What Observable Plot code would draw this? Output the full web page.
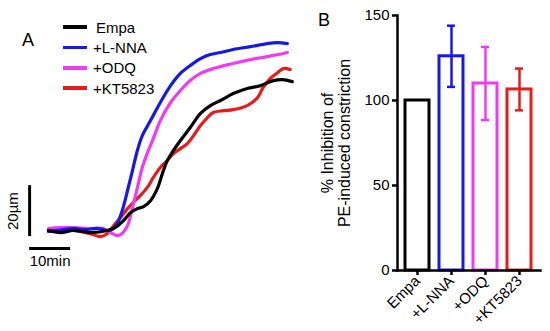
<!DOCTYPE html>
<html>
<head>
<meta charset="utf-8">
<script src="https://cdn.jsdelivr.net/npm/d3@7"></script>
<script src="https://cdn.jsdelivr.net/npm/@observablehq/plot@0.6"></script>
<style>
  html, body { margin: 0; padding: 0; background: #fff; }
  #wrap { position: relative; width: 550px; height: 331px; font-family: "Liberation Sans", Arial, sans-serif; color: #000; overflow: hidden; }
  #wrap svg { position: absolute; top: 0; }
  .panel { position: absolute; font-size: 18px; line-height: 1; }
  .legend { position: absolute; left: 63px; top: 0; }
  .row { position: absolute; left: 0; height: 20px; display: flex; align-items: center; white-space: nowrap; font-size: 15px; }
  .swatch { width: 24px; height: 3.5px; margin-right: 6px; }
</style>
</head>
<body>
<div id="wrap"></div>
<script>
// ---------- data ----------
const series = ["Empa", "+L-NNA", "+ODQ", "+KT5823"];
const colors = ["#000000", "#1818e4", "#f03cf0", "#e41c1c"];

// Panel A: diameter change (µm) vs time (min)
const empaTime = [0, 2.9, 6.1, 10.2, 14.4, 16.3, 18.3, 20.0, 21.7, 23.2, 24.9, 26.6, 27.8, 29.0, 30.5, 32.2, 34.6, 37.1, 39.5, 42.0, 45.1, 48.5, 51.7, 54.9, 57.1, 59.5];
const empaDiam = [0.8, 0, 0.8, 0, 0.8, 2.0, 4.7, 7.8, 9.4, 10.2, 12.5, 17.3, 23.1, 28.2, 32.2, 36.1, 41.2, 46.7, 49.8, 51.8, 54.5, 56.5, 57.6, 59.6, 60.0, 59.2];

const lnnaTime = [0, 3, 6, 9, 12, 14.4, 15.6, 16.8, 18.0, 19.3, 20.5, 21.7, 22.9, 24.9, 27.3, 29.8, 32.2, 34.6, 37.1, 39.5, 42.0, 45.1, 49.3, 53.4, 55.9, 58.3];
const lnnaDiam = [0.4, 1.0, 1.6, 1.2, 1.6, 0.8, 1.2, 3.5, 8.6, 16.5, 24.3, 32.2, 38.0, 43.9, 51.0, 57.6, 62.4, 65.5, 68.2, 69.8, 70.6, 71.8, 72.9, 74.1, 74.5, 74.1];

const odqTime = [0, 5, 10, 13.4, 15.6, 16.8, 18.0, 19.3, 20.5, 21.7, 22.9, 24.1, 25.6, 27.3, 29.8, 32.2, 34.6, 37.1, 40.2, 45.1, 49.3, 53.4, 57.3, 58.3];
const odqDiam = [1.6, 2.0, 1.6, 1.6, -0.4, -1.2, -0.4, 2.7, 9.8, 17.6, 25.5, 31.0, 36.9, 43.9, 51.0, 55.7, 59.6, 62.4, 64.3, 66.3, 67.8, 69.0, 70.2, 70.6];

const ktTime = [0, 6.1, 10.2, 12.7, 14.4, 15.9, 17.6, 19.3, 20.7, 22.4, 24.1, 25.6, 27.3, 29.0, 30.5, 32.2, 33.9, 35.4, 37.1, 38.8, 40.2, 42.7, 45.1, 48.5, 51.0, 52.4, 54.1, 55.9, 57.3, 59.0];
const ktDiam = [1.2, 0.8, -0.4, -1.6, -0.4, 2.7, 5.9, 9.4, 11.8, 14.5, 17.6, 21.6, 25.5, 28.2, 31.0, 32.9, 34.9, 38.0, 42.0, 45.1, 47.1, 47.8, 48.2, 49.8, 52.9, 56.9, 60.4, 62.7, 64.3, 63.9];

// scale bars (10 min, 20 µm)
const scaleTime = 10;
const scaleDist = 20;
const scaleBarTimeStart = -4.6;
const scaleBarDistStart = -1.6;
const scaleBarTimeLevel = -6.3;

// Panel B
const categories = ["Empa", "+L-NNA", "+ODQ", "+KT5823"];
const means = [100, 126, 110, 106.5];
const sems = [0, 18, 21.5, 12.3];
const yTicks = [0, 50, 100, 150];
const yLabel = "% Inhibition of\nPE-induced constriction";

// ---------- build ----------
const font = "Liberation Sans, Arial, sans-serif";
const wrap = document.getElementById("wrap");

const traces = [
  [series[3], ktTime, ktDiam],
  [series[2], odqTime, odqDiam],
  [series[1], lnnaTime, lnnaDiam],
  [series[0], empaTime, empaDiam]
];
const traceData = traces.flatMap(([s, ts, vs]) => ts.map((t, i) => ({series: s, t, v: vs[i]})));

const plotA = Plot.plot({
  width: 300, height: 331, margin: 0,
  style: {fontFamily: font, fontSize: "15px", background: "transparent", overflow: "visible"},
  x: {domain: [-11.7, 61.5], axis: null},
  y: {domain: [-38.8, 91], axis: null},
  color: {domain: series, range: colors},
  marks: [
    Plot.line(traceData, {x: "t", y: "v", z: "series", stroke: "series", strokeWidth: 3.2, curve: "catmull-rom"}),
    Plot.ruleX([scaleBarTimeStart], {y1: scaleBarDistStart, y2: scaleBarDistStart + scaleDist, stroke: "#000", strokeWidth: 3}),
    Plot.ruleY([scaleBarTimeLevel], {x1: scaleBarTimeStart, x2: scaleBarTimeStart + scaleTime, stroke: "#000", strokeWidth: 3}),
    Plot.text([scaleDist + "µm"], {x: scaleBarTimeStart, y: scaleBarDistStart + scaleDist / 2, text: d => d, rotate: -90, dx: -16, fill: "#000", fontSize: 15}),
    Plot.text([scaleTime + "min"], {x: scaleBarTimeStart + scaleTime / 2, y: scaleBarTimeLevel, text: d => d, dy: 13, fill: "#000", fontSize: 15})
  ]
});
plotA.style.left = "0px";
wrap.appendChild(plotA);

const barData = categories.map((c, i) => ({cat: c, mean: means[i], lo: means[i] - sems[i], hi: means[i] + sems[i], color: colors[i], sem: sems[i]}));
const errData = barData.filter(d => d.sem > 0);

const plotB = Plot.plot({
  width: 250, height: 331,
  marginLeft: 97, marginRight: 10, marginTop: 15, marginBottom: 61,
  style: {fontFamily: font, fontSize: "15px", background: "transparent", overflow: "visible"},
  x: {domain: categories, paddingInner: 0.286, paddingOuter: 0.186, label: null, axis: null},
  y: {domain: [0, 150], label: null, axis: null},
  marks: [
    Plot.barY(barData, {x: "cat", y: "mean", fill: "white", stroke: d => d.color, strokeWidth: 3}),
    Plot.ruleX(errData, {x: "cat", y1: "lo", y2: "hi", stroke: d => d.color, strokeWidth: 2.5}),
    Plot.tickY(errData, {x: "cat", y: "hi", stroke: d => d.color, strokeWidth: 2.5, insetLeft: 8, insetRight: 8}),
    Plot.tickY(errData, {x: "cat", y: "lo", stroke: d => d.color, strokeWidth: 2.5, insetLeft: 8, insetRight: 8}),
    Plot.axisY({ticks: yTicks, tickSize: 5, tickPadding: 3, strokeWidth: 2.5, fontSize: 15, label: null, color: "#000"}),
    Plot.axisX({tickSize: 5, tickPadding: 3, tickRotate: -45, strokeWidth: 2.5, fontSize: 15, label: null, color: "#000"}),
    Plot.frame({anchor: "left", strokeWidth: 2.5}),
    Plot.frame({anchor: "bottom", strokeWidth: 2.5}),
    Plot.text([yLabel], {frameAnchor: "left", textAnchor: "middle", lineAnchor: "middle", text: d => d, rotate: -90, dx: -61, lineHeight: 1.05, fontSize: 16, fill: "#000"})
  ]
});
plotB.style.left = "300px";
wrap.appendChild(plotB);

// panel letters
const la = document.createElement("div");
la.className = "panel"; la.textContent = "A";
la.style.left = "22px"; la.style.top = "31px";
wrap.appendChild(la);
const lb = document.createElement("div");
lb.className = "panel"; lb.textContent = "B";
lb.style.left = "318px"; lb.style.top = "11px";
wrap.appendChild(lb);

// legend for panel A
const leg = document.createElement("div");
leg.className = "legend";
series.forEach((s, i) => {
  const row = document.createElement("div");
  row.className = "row";
  row.style.top = (17 + i * 20.4) + "px";
  const sw = document.createElement("span");
  sw.className = "swatch"; sw.style.background = colors[i];
  if (i === 0) sw.style.marginRight = "9px";
  const tx = document.createElement("span");
  tx.textContent = s;
  row.appendChild(sw); row.appendChild(tx);
  leg.appendChild(row);
});
wrap.appendChild(leg);
</script>
</body>
</html>
